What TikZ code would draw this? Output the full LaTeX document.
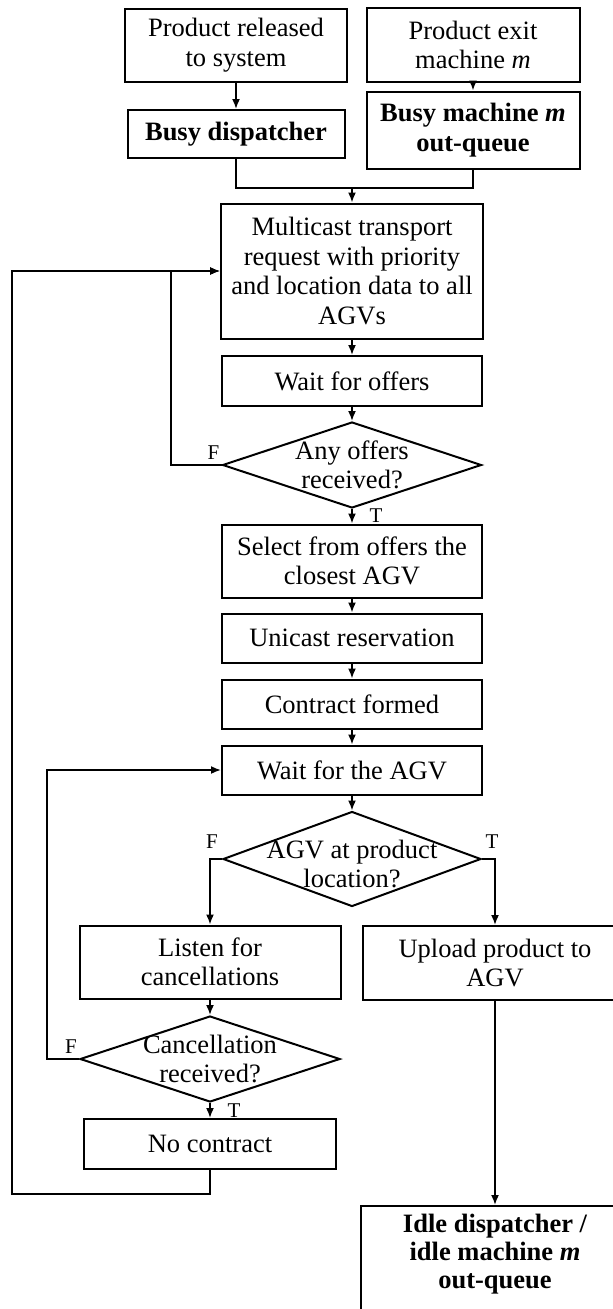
\documentclass[tikz,border=0pt]{standalone}
\usepackage{fontspec}
\setmainfont{Liberation Serif}
\usetikzlibrary{shapes.geometric,arrows.meta}

\begin{document}
\begin{tikzpicture}[x=1pt,y=-1pt,font=\fontsize{26.5}{29.5}\selectfont,
    box/.style={draw,line width=2pt,align=center,inner sep=0pt},
    boldbox/.style={box,font=\fontsize{26.5}{29.5}\selectfont\bfseries},
    decision/.style={draw,line width=2pt,diamond,inner sep=0pt},
    flag/.style={inner sep=0pt,font=\fontsize{21}{22}\selectfont},
    line/.style={line width=1.7pt},
    >={Latex[length=10pt,width=8pt]}]

    \useasboundingbox (0,0) rectangle (613,1309);

    % Sources
    \node[box,minimum width=222pt,minimum height=73pt] (rel) at (236,45) {Product released\\to system};
    \node[box,minimum width=213pt,minimum height=74pt] (exitm) at (473,45) {Product exit\\machine \textit{m}};
    \node[boldbox,minimum width=217pt,minimum height=48pt] (busyd) at (236,134) {Busy dispatcher};
    \node[boldbox,minimum width=213pt,minimum height=77pt] (busym) at (473,130) {Busy machine \textit{m}\\out-queue};
    \coordinate (merge) at (352,188);

    % Request
    \node[box,minimum width=262pt,minimum height=135pt] (mcast) at (352,271) {Multicast transport\\request with priority\\and location data to all\\AGVs};
    \node[box,minimum width=260pt,minimum height=50pt] (waito) at (352,381) {Wait for offers};
    \node[decision,minimum width=259pt,minimum height=86pt,
          label={[align=center]center:Any offers\\received?}] (anyo) at (352,465) {};

    % Contract
    \node[box,minimum width=260pt,minimum height=73pt] (select) at (352,561) {Select from offers the\\closest AGV};
    \node[box,minimum width=260pt,minimum height=49pt] (unicast) at (352,638) {Unicast reservation};
    \node[box,minimum width=260pt,minimum height=49pt] (contract) at (352,704) {Contract formed};
    \node[box,minimum width=260pt,minimum height=49pt] (waitagv) at (352,770) {Wait for the AGV};
    \node[decision,minimum width=258pt,minimum height=95pt,
          label={[align=center,yshift=-5pt]center:AGV at product\\location?}] (atloc) at (352,859) {};

    % Branches
    \node[box,minimum width=261pt,minimum height=73pt] (listen) at (210,962) {Listen for\\cancellations};
    \node[box,minimum width=264pt,minimum height=74pt] (upload) at (495,963) {Upload product to\\AGV};
    \node[decision,minimum width=260pt,minimum height=86pt,
          label={[align=center]center:Cancellation\\received?}] (cancel) at (210,1059) {};
    \node[box,minimum width=252pt,minimum height=50pt] (nocon) at (210,1144) {No contract};
    \node[box,anchor=north,minimum width=268pt,minimum height=130pt,
          label={[anchor=north,align=center,yshift=-6pt,font=\fontsize{26.5}{28}\selectfont\bfseries]north:Idle dispatcher /\\idle machine \textit{m}\\out-queue}] (idle) at (495,1205) {};

    % T/F flags
    \node[flag] (anyoF) at ([shift={(-8,-12)}]anyo.west) {F};
    \node[flag] (anyoT) at ([shift={(24,7)}]anyo.south) {T};
    \node[flag] (atlocF) at ([shift={(-10,-17)}]atloc.west) {F};
    \node[flag] (atlocT) at ([shift={(10,-17)}]atloc.east) {T};
    \node[flag] (cancelF) at ([shift={(-8,-12)}]cancel.west) {F};
    \node[flag] (cancelT) at ([shift={(24,8)}]cancel.south) {T};

    % Connectors
    \draw[line,->] (rel) -- (busyd);
    \draw[line,->] (exitm) -- (busym);
    \draw[line] (busyd.south) |- (merge) -| (busym.south);
    \draw[line,->] (merge) -- (mcast.north);
    \draw[line,->] (mcast) -- (waito);
    \draw[line,->] (waito) -- (anyo);
    \draw[line,->] (anyo) -- (select);
    \draw[line,->] (select) -- (unicast);
    \draw[line,->] (unicast) -- (contract);
    \draw[line,->] (contract) -- (waitagv);
    \draw[line,->] (waitagv) -- (atloc);
    \draw[line,->] (atloc.west) -| (listen.north);
    \draw[line,->] (atloc.east) -| (upload.north);
    \draw[line,->] (listen) -- (cancel);
    \draw[line,->] (cancel) -- (nocon);
    \draw[line,->] (upload) -- (idle);

    % Loops
    \draw[line,->] (anyo.west) -| ([xshift=-49pt]mcast.west) -- (mcast.west);
    \draw[line,->] (nocon.south) -- ++(0,24) -| ([xshift=-208pt]mcast.west) -- (mcast.west);
    \draw[line,->] (cancel.west) -| ([xshift=-174pt]waitagv.west) -- (waitagv.west);

\end{tikzpicture}
\end{document}
